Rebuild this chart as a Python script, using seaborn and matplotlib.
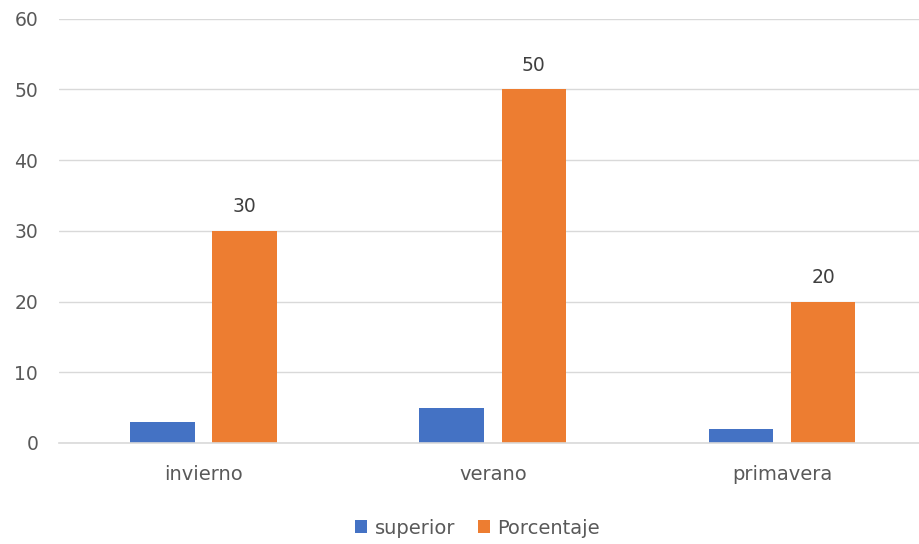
import matplotlib
matplotlib.use("Agg")
import matplotlib.pyplot as plt
import seaborn as sns
import pandas as pd
from matplotlib.patches import Patch

categories = ["invierno", "verano", "primavera"]
superior = [3, 5, 2]
porcentaje = [30, 50, 20]
series_names = ["superior", "Porcentaje"]
y_ticks = [0, 10, 20, 30, 40, 50, 60]

colors = ["#4472C4", "#ED7D31"]
text_color = "#595959"
fs = 13.5

df = pd.DataFrame({
    "categoria": categories * 2,
    "serie": [series_names[0]] * 3 + [series_names[1]] * 3,
    "valor": superior + porcentaje,
})

sns.set_theme(style="white")
plt.rcParams["font.family"] = ["DejaVu Sans"]

W, H = 919, 544
fig = plt.figure(figsize=(W / 100, H / 100), dpi=100)
left, right, top, bottom = 59, 926.6, 18.5, 443
ax = fig.add_axes([left / W, 1 - bottom / H, (right - left) / W, (bottom - top) / H])

sns.barplot(data=df, x="categoria", y="valor", hue="serie", palette=colors,
            width=0.568, gap=0.215, ax=ax, legend=False, saturation=1,
            edgecolor="none")

ax.set_ylim(0, 60)
ax.set_yticks(y_ticks)
ax.set_xlim(-0.5, 2.5)
ax.grid(axis="y", color="#D9D9D9", linewidth=1)
ax.set_axisbelow(True)
for s in ["top", "right", "left"]:
    ax.spines[s].set_visible(False)
ax.spines["bottom"].set_color("#D9D9D9")
ax.spines["bottom"].set_linewidth(1.2)
ax.set_xlabel("")
ax.set_ylabel("")
ax.tick_params(axis="both", length=0, labelcolor=text_color)
ax.tick_params(axis="y", pad=15, labelsize=fs)
ax.tick_params(axis="x", pad=16, labelsize=14)

# value labels on the orange series
orange = ax.containers[1]
ax.bar_label(orange, labels=[str(v) for v in porcentaje], padding=10.5,
             fontsize=fs, color="#404040")

handles = [Patch(facecolor=c, edgecolor="none") for c in colors]
fig.legend(handles, series_names, loc="center", bbox_to_anchor=(477.5 / W, 1 - 528 / H),
           ncol=2, frameon=False, fontsize=14, handlelength=0.62, handleheight=0.62,
           handletextpad=0.4, columnspacing=1.15, labelcolor=text_color)

fig.savefig("out.png", dpi=100)
